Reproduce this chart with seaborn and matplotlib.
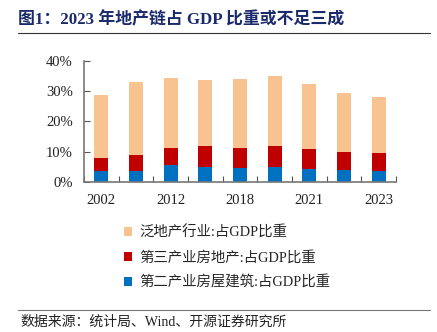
import matplotlib
matplotlib.use("Agg")
import matplotlib.pyplot as plt
import seaborn as sns
import pandas as pd
import numpy as np
from matplotlib.patches import Patch
from matplotlib.lines import Line2D

years = ["2002", "2007", "2012", "2017", "2018", "2020", "2021", "2022", "2023"]
tick_labels = ["2002", "", "2012", "", "2018", "", "2021", "", "2023"]
pan_real_estate = [28.7, 32.9, 34.5, 33.6, 34.2, 34.9, 32.3, 29.3, 28.1]
tertiary_real_estate = [8.0, 8.8, 11.1, 11.9, 11.3, 11.9, 11.0, 10.0, 9.6]
secondary_construction = [3.7, 3.7, 5.5, 5.0, 4.5, 4.8, 4.3, 3.9, 3.7]
series_names = ["泛地产行业:占GDP比重", "第三产业房地产:占GDP比重", "第二产业房屋建筑:占GDP比重"]
colors = ["#F8C391", "#C00000", "#0070C0"]

sns.set_theme(style="white")
plt.rcParams["font.family"] = ["Liberation Serif", "Noto Sans CJK SC"]

fig = plt.figure(figsize=(4.37, 3.32), dpi=100)
ax = fig.add_axes([84/437, 1-181.7/332, (396-84)/437, (181.7-61)/332])

df = pd.DataFrame({"year": years, "a": pan_real_estate, "b": tertiary_real_estate, "c": secondary_construction})
for col, c in zip(["a", "b", "c"], colors):
    sns.barplot(data=df, x="year", y=col, color=c, width=0.41, ax=ax, saturation=1, edgecolor="none")

ax.set_xlim(-0.5, len(years) - 0.5)
ax.set_ylim(0, 40)
ax.set_yticks([0, 10, 20, 30, 40])
ax.set_yticklabels([f"{v}%" for v in [0, 10, 20, 30, 40]], fontsize=10.5, color="#222222")
ax.set_xticks(range(len(years)))
ax.set_xticklabels(tick_labels, fontsize=10.5, color="#222222")
ax.tick_params(axis="x", which="major", length=0, pad=9)
ax.set_xticks(np.arange(-0.5, len(years) + 0.5, 1), minor=True)
ax.tick_params(axis="x", which="minor", direction="in", length=4, color="#555555", width=0.8, bottom=True)
ax.tick_params(axis="y", direction="in", length=4, color="#555555", width=0.8, left=True, pad=8)
ax.set_xlabel("")
ax.set_ylabel("")
for s in ["top", "right"]:
    ax.spines[s].set_visible(False)
for s in ["left", "bottom"]:
    ax.spines[s].set_color("#777777")
    ax.spines[s].set_linewidth(1.2)

handles = [Patch(facecolor=c, edgecolor="none") for c in colors]
fig.legend(handles, series_names, loc="upper left", bbox_to_anchor=(118/437, 1-220/332),
           frameon=False, fontsize=10.4, handlelength=0.6, handleheight=0.6, handletextpad=0.5,
           labelspacing=0.75, borderaxespad=0)

fig.text(18/437, 1-20/332, "图1：2023 年地产链占 GDP 比重或不足三成", fontsize=12.2, fontweight="bold",
         color="#1A2A6C", va="center", ha="left")
fig.add_artist(Line2D([18/437, 430/437], [1-33/332, 1-33/332], color="#333333", lw=0.8))
fig.add_artist(Line2D([18/437, 430/437], [1-310/332, 1-310/332], color="#777777", lw=0.8))
fig.text(20/437, 1-322/332, "数据来源：统计局、Wind、开源证券研究所", fontsize=10, color="#222222",
         va="center", ha="left")

fig.savefig("out.png", dpi=100)
